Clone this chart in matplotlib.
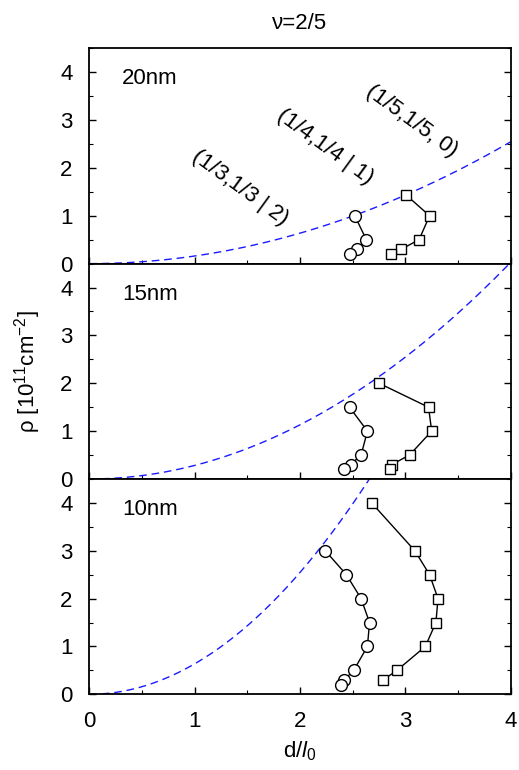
import numpy as np
import matplotlib
matplotlib.use("Agg")
import matplotlib.pyplot as plt

plt.rcParams['font.family'] = ['Liberation Sans', 'DejaVu Sans']
plt.rcParams['mathtext.fontset'] = 'custom'
plt.rcParams['mathtext.rm'] = 'Liberation Sans'
plt.rcParams['mathtext.it'] = 'Liberation Sans:italic'
plt.rcParams['mathtext.bf'] = 'Liberation Sans:bold'

# ---- data ----
nu = 2 / 5
thickness_nm = [20, 15, 10]
panel_labels = ["20nm", "15nm", "10nm"]

# 20 nm
c20_x = [2.52, 2.63, 2.54, 2.47]
c20_y = [1.0, 0.5, 0.3, 0.2]
s20_x = [3.01, 3.23, 3.13, 2.96, 2.86]
s20_y = [1.43, 1.0, 0.5, 0.3, 0.2]

# 15 nm
c15_x = [2.47, 2.64, 2.58, 2.48, 2.42]
c15_y = [1.5, 1.0, 0.5, 0.3, 0.2]
s15_x = [2.75, 3.22, 3.25, 3.04, 2.87, 2.85]
s15_y = [2.0, 1.5, 1.0, 0.5, 0.3, 0.2]

# 10 nm
c10_x = [2.24, 2.44, 2.58, 2.66, 2.64, 2.51, 2.42, 2.39]
c10_y = [3.0, 2.5, 2.0, 1.5, 1.0, 0.5, 0.3, 0.2]
s10_x = [2.68, 3.09, 3.23, 3.31, 3.29, 3.19, 2.92, 2.79]
s10_y = [4.0, 3.0, 2.5, 2.0, 1.5, 1.0, 0.5, 0.3]

circles = [(c20_x, c20_y), (c15_x, c15_y), (c10_x, c10_y)]
squares = [(s20_x, s20_y), (s15_x, s15_y), (s10_x, s10_y)]

state_labels = ["(1/3,1/3 | 2)", "(1/4,1/4 | 1)", "(1/5,1/5, 0)"]

x_ticks = [0, 1, 2, 3, 4]
y_ticks = [0, 1, 2, 3, 4]


def density_line(x, d_nm):
    # rho = nu / (2 pi l0^2), l0 = d / x ; in units of 1e11 cm^-2
    d_cm = d_nm * 1e-7
    return nu * x ** 2 / (2 * np.pi * d_cm ** 2) / 1e11


FS = 16
W, H = 519, 770
fig = plt.figure(figsize=(W / 100, H / 100), dpi=100)

left = 89.3 / W
right = 510.7 / W
top_px = 48.3
bot_px = 694.3
ph = (bot_px - top_px) / 3

axes = []
for i in range(3):
    y0 = 1 - (top_px + (i + 1) * ph) / H
    ax = fig.add_axes([left, y0, right - left, ph / H])
    axes.append(ax)

xx = np.linspace(0, 4, 400)
for i, ax in enumerate(axes):
    ax.plot(xx, density_line(xx, thickness_nm[i]), color='#1a1aff', lw=1.0,
            dashes=(5.5, 3.5))
    cx, cy = circles[i]
    ax.plot(cx, cy, '-', color='black', lw=1.0, marker='o', ms=8.5,
            mfc='white', mec='black', mew=1.0)
    sx, sy = squares[i]
    ax.plot(sx, sy, '-', color='black', lw=1.0, marker='s', ms=7.5,
            mfc='white', mec='black', mew=1.0)
    ax.set_xlim(0, 4)
    ax.set_ylim(0, 4.5)
    ax.set_xticks(x_ticks)
    ax.set_yticks(y_ticks)
    ax.set_xticks(np.arange(0, 4.01, 0.5), minor=True)
    ax.set_yticks(np.arange(0, 4.51, 0.5), minor=True)
    ax.tick_params(axis='both', which='both', direction='in',
                   left=True, right=True, top=False, bottom=True,
                   labelsize=FS)
    ax.tick_params(which='major', length=5, width=1.0)
    ax.tick_params(which='minor', length=3, width=0.8)
    ax.tick_params(axis='y', pad=12)
    for s in ax.spines.values():
        s.set_linewidth(1.3)
    ax.text(0.31, 3.86, panel_labels[i], fontsize=FS, ha='left', va='center')
    if i < 2:
        ax.tick_params(labelbottom=False)

for lab, (lx, ly) in zip(state_labels, [(1.43, 1.58), (2.24, 2.44), (3.06, 2.98)]):
    axes[0].text(lx, ly, lab, fontsize=FS, rotation=-36,
                 ha='center', va='center', rotation_mode='anchor')

axes[0].set_title("ν=2/5", fontsize=FS, pad=14)
axes[2].set_xlabel(r"d/$\mathit{l}_0$", fontsize=FS, labelpad=5)
axes[2].tick_params(axis='x', pad=12)
axes[1].set_ylabel(r"ρ [10$^{11}$cm$^{-2}$]", fontsize=FS, labelpad=12)

fig.savefig("out.png", dpi=100)
